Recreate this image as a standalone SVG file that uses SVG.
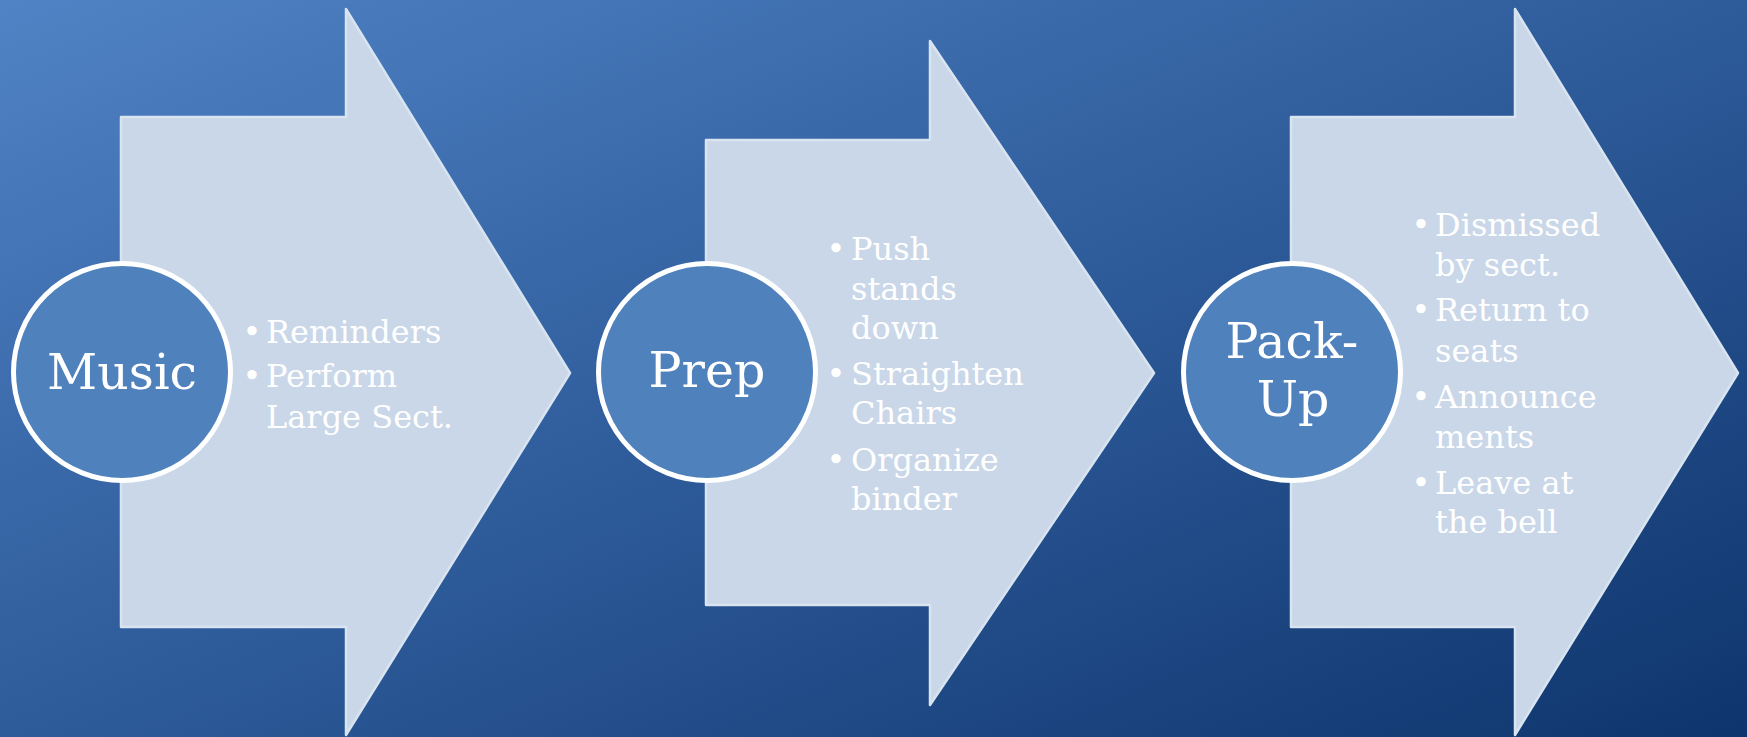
<svg xmlns="http://www.w3.org/2000/svg" width="1747" height="737" viewBox="0 0 1747 737">
  <defs>
    <linearGradient id="bg" x1="0" y1="0" x2="1" y2="1">
      <stop offset="0" stop-color="#5083C5"/>
      <stop offset="0.5" stop-color="#2E5B9A"/>
      <stop offset="1" stop-color="#0E356D"/>
    </linearGradient>
    <style>
      .arrow { fill: #C9D7E8; stroke: #D9E4F1; stroke-width: 2.5; stroke-linejoin: round; }
      .circ { fill: #4F81BD; stroke: #FFFFFF; stroke-width: 5; }
      .lbl { font-family: "DejaVu Serif", "Liberation Serif", serif; font-size: 49px; fill: #FFFFFF; text-anchor: middle; }
      .item { font-family: "DejaVu Serif", "Liberation Serif", serif; font-size: 32px; fill: #FFFFFF; }
      .bul { font-family: "DejaVu Serif", "Liberation Serif", serif; font-size: 32px; fill: #FFFFFF; text-anchor: middle; }
    </style>
  </defs>
  <rect x="0" y="0" width="1747" height="737" fill="url(#bg)"/>
  <g id="connectors"/>

  <g id="node-music">
    <path class="arrow" d="M121,117 L346,117 L346,9 L570,373 L346,735 L346,627 L121,627 Z"/>
    <circle class="circ" cx="122" cy="372" r="108.5"/>
    <text class="lbl" x="122" y="389">Music</text>
    <text class="bul" x="252" y="343">•</text>
    <text class="item" x="266" y="343">Reminders</text>
    <text class="bul" x="252" y="387">•</text>
    <text class="item" x="266" y="387">Perform</text>
    <text class="item" x="266" y="428">Large Sect.</text>
  </g>

  <g id="node-prep">
    <path class="arrow" d="M706,140 L930,140 L930,41 L1154,373 L930,705 L930,605 L706,605 Z"/>
    <circle class="circ" cx="707" cy="372" r="108.5"/>
    <text class="lbl" x="707" y="387">Prep</text>
    <text class="bul" x="836" y="260">•</text>
    <text class="item" x="851" y="260">Push</text>
    <text class="item" x="851" y="300">stands</text>
    <text class="item" x="851" y="339">down</text>
    <text class="bul" x="836" y="385">•</text>
    <text class="item" x="851" y="385">Straighten</text>
    <text class="item" x="851" y="424">Chairs</text>
    <text class="bul" x="836" y="471">•</text>
    <text class="item" x="851" y="471">Organize</text>
    <text class="item" x="851" y="510">binder</text>
  </g>

  <g id="node-packup">
    <path class="arrow" d="M1291,117 L1515,117 L1515,9 L1738,373 L1515,735 L1515,627 L1291,627 Z"/>
    <circle class="circ" cx="1292" cy="372" r="108.5"/>
    <text class="lbl" x="1292" y="358">Pack-</text>
    <text class="lbl" x="1293" y="416">Up</text>
    <text class="bul" x="1421" y="236">•</text>
    <text class="item" x="1435" y="236">Dismissed</text>
    <text class="item" x="1435" y="276">by sect.</text>
    <text class="bul" x="1421" y="321">•</text>
    <text class="item" x="1435" y="321">Return to</text>
    <text class="item" x="1435" y="362">seats</text>
    <text class="bul" x="1421" y="408">•</text>
    <text class="item" x="1435" y="408">Announce</text>
    <text class="item" x="1435" y="448">ments</text>
    <text class="bul" x="1421" y="494">•</text>
    <text class="item" x="1435" y="494">Leave at</text>
    <text class="item" x="1435" y="533">the bell</text>
  </g>
</svg>
